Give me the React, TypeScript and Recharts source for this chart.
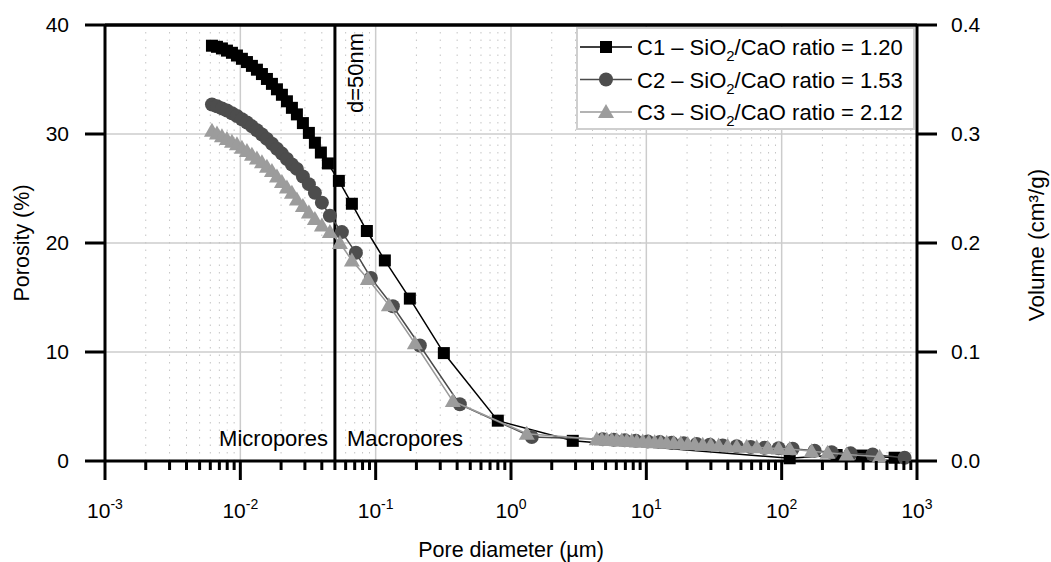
import React from 'react';
import { ComposedChart, Scatter, XAxis, YAxis, CartesianGrid, ReferenceLine, Legend } from 'recharts';

const FONT = '"Liberation Sans", Arial, Helvetica, sans-serif';

// ---- series meta ----
const seriesIds = ['C1', 'C2', 'C3'];
const seriesRatios = ['1.20', '1.53', '2.12'];
const lineColors = ['#000000', '#4a4a4a', '#9a9a9a'];
const markerColors = ['#000000', '#4d4d4d', '#9c9c9c'];

// ---- axis ticks ----
const decadeTicks = [0.001, 0.01, 0.1, 1, 10, 100, 1000];
const decadeExponents = ['-3', '-2', '-1', '0', '1', '2', '3'];
const minorMultipliers = [2, 3, 4, 5, 6, 7, 8, 9];
const porosityTicks = [0, 10, 20, 30, 40];
const volumeTicks = [0, 0.1, 0.2, 0.3, 0.4];
const boundaryDiameter = 0.05;

// ---- C1 : SiO2/CaO = 1.20 ----
const c1Diameter = [0.00617, 0.006719, 0.007312, 0.007962, 0.00867, 0.009439, 0.01027, 0.01119, 0.01218, 0.01326, 0.01444, 0.01572, 0.01712, 0.01864, 0.02029, 0.02209, 0.02405, 0.02618, 0.02899, 0.0321, 0.03556, 0.03937, 0.04436, 0.05347, 0.06673, 0.0861, 0.1169, 0.1789, 0.319, 0.799, 2.86, 114.6, 254.8, 389.8, 683.3];
const c1Porosity = [38.1, 38.0, 37.85, 37.65, 37.45, 37.2, 36.9, 36.6, 36.25, 35.9, 35.5, 35.05, 34.6, 34.1, 33.6, 33.0, 32.4, 31.8, 31.0, 30.1, 29.2, 28.3, 27.3, 25.7, 23.6, 21.1, 18.4, 14.9, 9.9, 3.7, 1.85, 0.25, 0.55, 0.5, 0.3];

// ---- C2 : SiO2/CaO = 1.53 ----
const c2Diameter = [0.00617, 0.006719, 0.007312, 0.007962, 0.00867, 0.009439, 0.01027, 0.01119, 0.01218, 0.01326, 0.01444, 0.01572, 0.01712, 0.01864, 0.02029, 0.02209, 0.02405, 0.02618, 0.02899, 0.0321, 0.03556, 0.04005, 0.04589, 0.05628, 0.07143, 0.09215, 0.134, 0.2121, 0.4186, 1.424, 4.764, 5.743, 6.925, 8.352, 10.24, 12.56, 15.4, 18.89, 23.56, 29.39, 36.67, 46.54, 59.02, 74.89, 95.02, 120.6, 175.3, 234.0, 323.2, 469.9, 809.9];
const c2Porosity = [32.7, 32.55, 32.35, 32.15, 31.9, 31.65, 31.35, 31.05, 30.7, 30.35, 29.95, 29.55, 29.1, 28.65, 28.2, 27.7, 27.2, 26.8, 26.1, 25.4, 24.6, 23.7, 22.5, 21.0, 19.1, 16.8, 14.2, 10.6, 5.2, 2.2, 2.0, 1.95, 1.9, 1.85, 1.8, 1.75, 1.68, 1.62, 1.56, 1.49, 1.42, 1.35, 1.28, 1.22, 1.17, 1.12, 0.95, 0.8, 0.7, 0.6, 0.3];

// ---- C3 : SiO2/CaO = 2.12 ----
const c3Diameter = [0.00617, 0.006719, 0.007312, 0.007962, 0.00867, 0.009439, 0.01027, 0.01119, 0.01218, 0.01326, 0.01444, 0.01572, 0.01712, 0.01864, 0.02029, 0.02209, 0.02405, 0.02618, 0.02899, 0.0321, 0.03556, 0.04005, 0.04589, 0.05439, 0.06673, 0.08758, 0.1252, 0.1948, 0.3717, 1.308, 4.302, 4.684, 5.1, 5.553, 6.045, 6.581, 7.166, 7.802, 8.495, 9.406, 10.42, 11.53, 12.78, 14.15, 15.94, 17.96, 20.22, 22.78, 26.09, 29.89, 34.24, 39.92, 46.54, 55.14, 65.38, 78.82, 95.02, 114.6, 166.6, 218.6, 302.1, 529.4];
const c3Porosity = [30.3, 30.05, 29.8, 29.55, 29.3, 29.05, 28.75, 28.45, 28.1, 27.75, 27.4, 27.0, 26.6, 26.1, 25.6, 25.1, 24.6, 24.0, 23.4, 22.8, 22.2, 21.6, 21.0, 20.0, 18.4, 16.7, 14.3, 10.8, 5.5, 2.5, 2.0, 1.98, 1.95, 1.93, 1.9, 1.88, 1.85, 1.83, 1.8, 1.78, 1.75, 1.72, 1.7, 1.67, 1.64, 1.6, 1.57, 1.54, 1.5, 1.46, 1.42, 1.38, 1.34, 1.3, 1.26, 1.2, 1.15, 1.1, 0.9, 0.75, 0.6, 0.4];

const zip = (d: number[], v: number[]) => d.map((x, i) => ({ d: x, v: v[i] }));
const c1Data = zip(c1Diameter, c1Porosity);
const c2Data = zip(c2Diameter, c2Porosity);
const c3Data = zip(c3Diameter, c3Porosity);

const minorTicks: number[] = [];
decadeTicks.slice(0, -1).forEach((dec) => minorMultipliers.forEach((m) => minorTicks.push(dec * m)));
const allXTicks = [...decadeTicks, ...minorTicks].sort((a, b) => a - b);

const isDecade = (v: number) => Math.abs(Math.log10(v) - Math.round(Math.log10(v))) < 1e-6;

// ---- marker shapes ----
const drawMarker = (i: number, cx: number, cy: number) => {
  if (i === 0) return <rect x={cx - 6} y={cy - 6} width={12} height={12} fill={markerColors[0]} />;
  if (i === 1) return <circle cx={cx} cy={cy} r={7} fill={markerColors[1]} />;
  return <polygon points={`${cx},${cy - 8} ${cx + 8},${cy + 6} ${cx - 8},${cy + 6}`} fill={markerColors[2]} />;
};
const SquareShape = (p: any) => (p.cx == null ? <g /> : drawMarker(0, p.cx, p.cy));
const CircleShape = (p: any) => (p.cx == null ? <g /> : drawMarker(1, p.cx, p.cy));
const TriangleShape = (p: any) => (p.cx == null ? <g /> : drawMarker(2, p.cx, p.cy));

// ---- ticks ----
const XTick = (props: any) => {
  const { x, y, payload } = props;
  const v = payload.value;
  const major = isDecade(v);
  const idx = decadeTicks.findIndex((t) => Math.abs(t - v) / t < 1e-6);
  return (
    <g>
      <line x1={x} x2={x} y1={y} y2={y + (major ? 19 : 9)} stroke="#000" strokeWidth={3} />
      {major && idx >= 0 && (
        <text x={x} y={y + 57} textAnchor="middle" fontSize={21} fontFamily={FONT} fill="#000">
          10<tspan dy={-9} fontSize={14}>{decadeExponents[idx]}</tspan>
        </text>
      )}
    </g>
  );
};

const LeftTitle = (props: any) => {
  const vb = props.viewBox || { x: 0, y: 25, width: 105, height: 436 };
  const cx = vb.x + 29;
  const cy = vb.y + vb.height / 2;
  return (
    <text x={cx} y={cy} transform={`rotate(-90 ${cx} ${cy})`} textAnchor="middle" fontSize={21.5} fontFamily={FONT} fill="#000">
      Porosity (%)
    </text>
  );
};
const RightTitle = (props: any) => {
  const vb = props.viewBox || { x: 917, y: 25, width: 134, height: 436 };
  const cx = vb.x + 127;
  const cy = vb.y + vb.height / 2 + 2;
  return (
    <text x={cx} y={cy} transform={`rotate(-90 ${cx} ${cy})`} textAnchor="middle" fontSize={22.5} fontFamily={FONT} fill="#000">
      Volume (cm³/g)
    </text>
  );
};
const BottomTitle = (props: any) => {
  const vb = props.viewBox || { x: 105, y: 461, width: 812, height: 101 };
  return (
    <text x={vb.x + vb.width / 2} y={vb.y + 96} textAnchor="middle" fontSize={21.5} fontFamily={FONT} fill="#000">
      Pore diameter (µm)
    </text>
  );
};

const BoundaryLabel = (props: any) => {
  const vb = props.viewBox || { x: 335, y: 25, height: 436 };
  const x = vb.x;
  const top = vb.y;
  const bottom = vb.y + vb.height;
  const tx = x + 28;
  const ty = top + 88;
  return (
    <g fontFamily={FONT} fontSize={22} fill="#000">
      <text x={tx} y={ty} transform={`rotate(-90 ${tx} ${ty})`} textAnchor="start">d=50nm</text>
      <text x={x - 7} y={bottom - 15} textAnchor="end">Micropores</text>
      <text x={x + 12} y={bottom - 15} textAnchor="start">Macropores</text>
    </g>
  );
};

const LegendBox = () => (
  <svg width={340} height={104} style={{ display: 'block' }}>
    <rect x={1} y={1} width={337} height={101} fill="#fff" stroke="#cfcfcf" strokeWidth={2} />
    {seriesIds.map((id, i) => {
      const cy = 20 + i * 32.5;
      return (
        <g key={id}>
          <line x1={4} x2={56} y1={cy} y2={cy} stroke={lineColors[i]} strokeWidth={1.5} />
          {drawMarker(i, 30, cy)}
          <text x={61} y={cy + 8} fontSize={22} fontFamily={FONT} fill="#000">
            {id} – SiO<tspan dy={6} fontSize={15}>2</tspan>
            <tspan dy={-6}>/CaO ratio = {seriesRatios[i]}</tspan>
          </text>
        </g>
      );
    })}
  </svg>
);

export default function App() {
  return (
    <div style={{ position: 'absolute', left: 0, top: 0, background: '#fff' }}>
      <ComposedChart width={1051} height={562} margin={{ top: 25, right: 0, bottom: 0, left: 0 }}>
        <CartesianGrid yAxisId="left" vertical={false} stroke="#cccccc" strokeWidth={1.5} />
        {minorTicks.map((t) => (
          <ReferenceLine key={`m${t}`} x={t} yAxisId="left" stroke="#c4c4c4" strokeWidth={1} strokeDasharray="1.5 6" />
        ))}
        {decadeTicks.slice(1, -1).map((t) => (
          <ReferenceLine key={`M${t}`} x={t} yAxisId="left" stroke="#cccccc" strokeWidth={1.5} />
        ))}
        <XAxis
          dataKey="d"
          type="number"
          scale="log"
          domain={[0.001, 1000]}
          ticks={allXTicks}
          interval={0}
          allowDataOverflow
          height={101}
          tickSize={0}
          tickMargin={0}
          tickLine={false}
          axisLine={{ stroke: '#000', strokeWidth: 3 }}
          tick={(p: any) => <XTick {...p} />}
          label={<BottomTitle />}
        />
        <YAxis
          yAxisId="left"
          type="number"
          domain={[0, 40]}
          ticks={porosityTicks}
          width={105}
          tickSize={20}
          tickMargin={16}
          tickLine={{ stroke: '#000', strokeWidth: 3 }}
          axisLine={{ stroke: '#000', strokeWidth: 3 }}
          tick={{ fill: '#000', fontSize: 21, fontFamily: FONT }}
          label={<LeftTitle />}
        />
        <YAxis
          yAxisId="right"
          type="number"
          orientation="right"
          domain={[0, 0.4]}
          allowDataOverflow
          ticks={volumeTicks}
          interval={0}
          width={134}
          tickSize={20}
          tickMargin={14}
          tickFormatter={(v: number) => v.toFixed(1)}
          tickLine={{ stroke: '#000', strokeWidth: 3 }}
          axisLine={{ stroke: '#000', strokeWidth: 3 }}
          tick={{ fill: '#000', fontSize: 21, fontFamily: FONT }}
          label={<RightTitle />}
        />
        <ReferenceLine y={0.4} yAxisId="right" stroke="#000" strokeWidth={3} />
        <ReferenceLine y={40} yAxisId="left" stroke="#000" strokeWidth={3} />
        <ReferenceLine x={boundaryDiameter} yAxisId="left" stroke="#000" strokeWidth={3} label={<BoundaryLabel />} />
        <Scatter name="C1" data={c1Data} dataKey="v" yAxisId="left" line={{ stroke: lineColors[0], strokeWidth: 1.5 }} lineType="joint" shape={SquareShape} isAnimationActive={false} />
        <Scatter name="C2" data={c2Data} dataKey="v" yAxisId="left" line={{ stroke: lineColors[1], strokeWidth: 1.5 }} lineType="joint" shape={CircleShape} isAnimationActive={false} />
        <Scatter name="C3" data={c3Data} dataKey="v" yAxisId="left" line={{ stroke: lineColors[2], strokeWidth: 1.5 }} lineType="joint" shape={TriangleShape} isAnimationActive={false} />
        <Legend
          layout="horizontal"
          verticalAlign="middle"
          align="center"
          content={() => <LegendBox />}
          wrapperStyle={{ left: 576, top: 27, width: 340, height: 104 }}
        />
      </ComposedChart>
    </div>
  );
}
